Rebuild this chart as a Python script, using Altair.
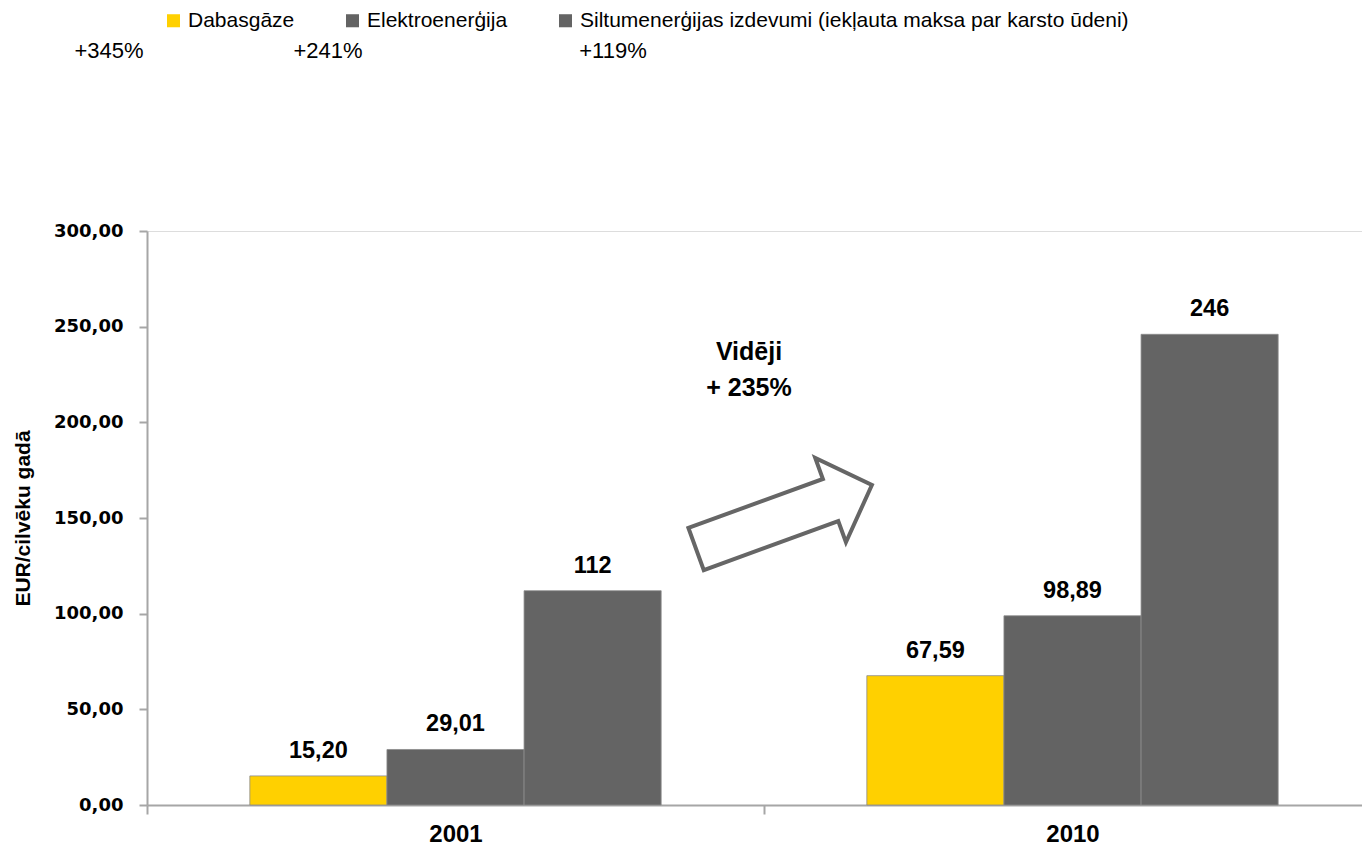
import altair as alt
import pandas as pd

years = ["2001", "2001", "2001", "2010", "2010", "2010"]
series = ["Dabasgāze", "Elektroenerģija", "Siltumenerģijas izdevumi (iekļauta maksa par karsto ūdeni)"] * 2
values = [15.20, 29.01, 112.0, 67.59, 98.89, 246.0]
labels = ["15,20", "29,01", "112", "67,59", "98,89", "246"]
series_order = ["Dabasgāze", "Elektroenerģija", "Siltumenerģijas izdevumi (iekļauta maksa par karsto ūdeni)"]
colors = ["#FFD000", "#636363", "#646464"]
pct_labels = ["+345%", "+241%", "+119%"]
note_text = "Vidēji\n+ 235%"

LIB = "Liberation Sans"
WIDE = "DejaVu Sans"

df = pd.DataFrame({"year": years, "series": series, "value": values, "label": labels})

W = 1215
H = 574

x_enc = alt.X("year:N", title=None,
              scale=alt.Scale(paddingInner=0, paddingOuter=0, range=[0, 1234]),
              axis=alt.Axis(labelAngle=0, labelFont=LIB, labelFontSize=24, labelFontWeight="bold",
                            labelColor="#000", labelPadding=8, domainColor="#A6A6A6", domainWidth=2,
                            tickColor="#A6A6A6", tickWidth=2, tickSize=9, tickBand="extent", grid=False))
xoff = alt.XOffset("series:N", sort=series_order, scale=alt.Scale(paddingInner=0, paddingOuter=0.75))
y_enc = alt.Y("value:Q", title="EUR/cilvēku gadā",
              scale=alt.Scale(domain=[0, 300], nice=False),
              axis=alt.Axis(values=[0, 50, 100, 150, 200, 250, 300],
                            labelExpr="replace(format(datum.value, '.2f'), '.', ',')",
                            labelFont=WIDE, labelFontSize=18, labelFontWeight="bold", labelColor="#000",
                            labelPadding=16,
                            titleFont=LIB, titleFontSize=21, titleFontWeight="bold", titleColor="#000",
                            titlePadding=20,
                            domainColor="#A6A6A6", domainWidth=2, tickColor="#A6A6A6", tickWidth=2,
                            tickSize=8, grid=False))

color_enc = alt.Color("series:N", sort=series_order,
                      scale=alt.Scale(domain=series_order, range=colors),
                      legend=alt.Legend(title=None, orient="none", legendX=16, legendY=-221,
                                        direction="horizontal", symbolType="square", symbolSize=170,
                                        symbolStrokeWidth=0, labelFont=LIB, labelFontSize=21,
                                        labelFontWeight="normal", labelColor="#000", labelLimit=700,
                                        columnPadding=47, labelOffset=4))

bars = alt.Chart(df).mark_bar(stroke="#8C8C8C", strokeWidth=0.8).encode(
    x=x_enc, xOffset=xoff, y=y_enc, color=color_enc)

text = alt.Chart(df).mark_text(dy=-25, font=LIB, fontSize=23.5, fontWeight="bold", color="#000").encode(
    x=alt.X("year:N"), xOffset=alt.XOffset("series:N", sort=series_order), y="value:Q", text="label:N")

pct_x = [-38, 181, 466]
pct_layers = [
    alt.Chart(pd.DataFrame({"t": [t]})).mark_text(font=LIB, fontSize=22, color="#000", baseline="middle").encode(
        x=alt.value(px), y=alt.value(-180), text="t:N")
    for t, px in zip(pct_labels, pct_x)
]

note = alt.Chart(pd.DataFrame({"t": [note_text]})).mark_text(
    font=LIB, fontSize=25, fontWeight="bold", color="#000", lineBreak="\n", lineHeight=36,
    baseline="middle").encode(x=alt.value(602), y=alt.value(121), text="t:N")

arrow_path = "M -1 -0.24 L 0.53 -0.24 L 0.53 -0.48 L 1 0 L 0.53 0.48 L 0.53 0.24 L -1 0.24 Z"
arrow = alt.Chart(pd.DataFrame({"a": [1]})).mark_point(
    shape=arrow_path, size=35000, angle=340, filled=True, fill="white", stroke="#666666",
    strokeWidth=4, opacity=1).encode(x=alt.value(637), y=alt.value(286))

chart = alt.layer(bars, text, *pct_layers, note, arrow).properties(
    width=W, height=H,
    autosize=alt.AutoSizeParams(type="none"),
    padding={"left": 139, "top": 223, "right": 0, "bottom": 44},
).configure_view(stroke=None).configure(background="white")

chart.save("out.html", embed_options={"renderer": "svg", "actions": False})
